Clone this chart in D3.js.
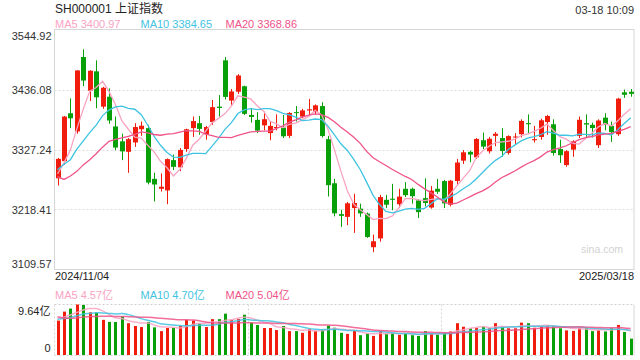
<!DOCTYPE html>
<html><head><meta charset="utf-8">
<script src="https://cdn.jsdelivr.net/npm/d3@7"></script>
<style>
body{margin:0;background:#fff}
svg{display:block}
text{font-family:"Liberation Sans",Arial,"Noto Sans CJK SC",sans-serif}
</style>
</head><body>
<svg id="c" width="640" height="360"></svg>
<script>
// ---------- data ----------
const title = "SH000001 上证指数";
const timeStamp = "03-18 10:09";
const dates = [
"2024/11/04","2024/11/05","2024/11/06","2024/11/07","2024/11/08","2024/11/11","2024/11/12","2024/11/13","2024/11/14","2024/11/15",
"2024/11/18","2024/11/19","2024/11/20","2024/11/21","2024/11/22","2024/11/25","2024/11/26","2024/11/27","2024/11/28","2024/11/29",
"2024/12/02","2024/12/03","2024/12/04","2024/12/05","2024/12/06","2024/12/09","2024/12/10","2024/12/11","2024/12/12","2024/12/13",
"2024/12/16","2024/12/17","2024/12/18","2024/12/19","2024/12/20","2024/12/23","2024/12/24","2024/12/25","2024/12/26","2024/12/27",
"2024/12/30","2024/12/31","2025/01/02","2025/01/03","2025/01/06","2025/01/07","2025/01/08","2025/01/09","2025/01/10","2025/01/13",
"2025/01/14","2025/01/15","2025/01/16","2025/01/17","2025/01/20","2025/01/21","2025/01/22","2025/01/23","2025/01/24","2025/01/27",
"2025/02/05","2025/02/06","2025/02/07","2025/02/10","2025/02/11","2025/02/12","2025/02/13","2025/02/14","2025/02/17","2025/02/18",
"2025/02/19","2025/02/20","2025/02/21","2025/02/24","2025/02/25","2025/02/26","2025/02/27","2025/02/28","2025/03/03","2025/03/04",
"2025/03/05","2025/03/06","2025/03/07","2025/03/10","2025/03/11","2025/03/12","2025/03/13","2025/03/14","2025/03/17","2025/03/18"];
const opens = [
3275,3306,3393,3360,3495,3434,3469,3405,3423,3369,
3342,3323,3340,3364,3366,3274,3256,3253,3308,3295,
3328,3366,3375,3355,3377,3405,3489,3416,3432,3442,
3390,3381,3371,3357,3367,3367,3352,3395,3387,3398,
3395,3406,3346,3266,3210,3205,3221,3220,3211,3150,
3166,3236,3238,3228,3256,3256,3235,3239,3222,3256,
3270,3227,3270,3307,3323,3313,3344,3324,3352,3348,
3321,3349,3355,3375,3344,3350,3377,3373,3328,3299,
3327,3352,3375,3372,3335,3385,3370,3355,3431,3432];
const highs = [
3312,3388,3420,3471,3509,3471,3489,3441,3438,3387,
3356,3348,3375,3378,3372,3285,3284,3311,3318,3330,
3365,3387,3388,3370,3417,3426,3495,3437,3464,3443,
3402,3395,3396,3378,3391,3390,3395,3406,3401,3419,
3409,3413,3352,3274,3218,3232,3247,3229,3213,3173,
3245,3245,3265,3256,3268,3258,3237,3275,3261,3274,
3272,3272,3310,3326,3325,3348,3358,3350,3359,3366,
3353,3357,3382,3391,3370,3383,3390,3382,3345,3326,
3344,3387,3391,3376,3382,3393,3378,3421,3436,3437];
const lows = [
3262,3300,3366,3356,3442,3415,3402,3401,3374,3326,
3308,3285,3332,3352,3264,3233,3251,3228,3290,3288,
3323,3350,3354,3345,3372,3387,3418,3408,3428,3390,
3376,3357,3362,3344,3362,3348,3348,3378,3384,3390,
3390,3349,3242,3206,3187,3190,3176,3205,3167,3141,
3160,3221,3217,3221,3241,3229,3203,3224,3220,3247,
3221,3224,3262,3301,3304,3310,3328,3320,3333,3314,
3318,3336,3349,3355,3340,3345,3354,3316,3303,3296,
3314,3348,3349,3349,3330,3362,3341,3352,3421,3423];
const closes = [
3310.21,3386.99,3383.81,3470.66,3452.30,3470.07,3421.97,3439.28,3379.84,3330.73,
3323.85,3346.01,3367.99,3370.40,3267.19,3263.76,3259.76,3309.78,3295.70,3326.46,
3363.98,3378.81,3364.65,3368.07,3404.08,3402.53,3422.66,3432.49,3461.50,3391.88,
3386.33,3361.49,3382.21,3370.03,3368.07,3351.26,3393.53,3393.35,3398.08,3400.14,
3407.33,3351.76,3262.56,3211.43,3206.92,3229.64,3230.17,3211.39,3168.52,3160.76,
3240.94,3227.12,3236.03,3241.82,3244.38,3242.62,3213.62,3230.16,3252.63,3250.60,
3229.49,3270.66,3303.67,3322.17,3318.06,3346.39,3332.48,3346.72,3355.83,3324.49,
3351.54,3350.78,3379.11,3373.03,3346.04,3380.21,3388.06,3320.90,3316.93,3324.21,
3341.96,3381.10,3372.55,3366.16,3379.83,3371.92,3358.73,3419.56,3426.43,3428.20];
// closes of the 19 sessions before the window (feed the moving averages)
const prevCloses = [3489.78,3258.86,3301.93,3217.74,3284.32,3201.29,3202.95,3169.38,3261.56,3268.11,
3285.87,3302.80,3280.26,3299.70,3322.20,3286.41,3266.24,3279.82,3272.01];
// volumes in 亿
const volumes = [
6.57,8.28,8.86,9.64,9.55,8.14,8.10,6.71,6.32,6.30,
7.36,6.07,5.54,5.34,6.32,5.28,4.56,5.15,5.15,5.54,
6.71,6.57,6.07,5.34,6.85,6.85,7.89,6.71,6.85,7.69,
6.18,5.73,5.15,5.15,4.76,5.54,4.56,4.56,4.23,4.95,
4.62,4.89,5.60,5.21,4.23,4.03,4.62,3.78,4.11,3.64,
4.56,4.11,4.23,3.84,4.11,3.78,3.64,4.56,4.20,3.90,
4.30,4.50,6.07,5.40,5.10,5.20,5.40,5.10,6.07,5.40,
5.10,5.10,6.18,6.07,5.20,5.40,5.50,5.50,5.10,4.70,
4.60,5.20,5.10,4.55,4.70,4.50,5.10,5.73,4.40,3.12];
const prevVolumes = [12.5,10.2,8.0,6.5,6.8,6.9,6.2,6.0,7.6,7.0,6.9,6.6,6.4,6.2,7.1,7.0,6.8,7.3,7.2];
const priceTicks = [3109.57,3218.41,3327.24,3436.08,3544.92];
const volumeTicks = [0,9.64];
const maPeriods = [5,10,20];
const maNames = ["MA5","MA10","MA20"];
const priceMaLegend = ["3400.97","3384.65","3368.86"];
const volMaLegend = ["4.57亿","4.70亿","5.04亿"];
const watermark = "sina.com";

// ---------- styles ----------
const UP = "#f01c0c", DOWN = "#08a008";
const maColors = ["#f9a3c3","#3fc3e2","#ef5389"];
const L = 54.5, R = 634, T = 29.5, B = 269.5, VT = 304.5, VB = 355.5;

const svg = d3.select("#c");
const x = d3.scaleBand().domain(dates).range([54.3, 633.9]).paddingInner(0.22).paddingOuter(0.11);
const cx = d => x(d) + x.bandwidth()/2;
const y = d3.scaleLinear().domain([priceTicks[0], priceTicks[4]]).range([B, T]);
const yv = d3.scaleLinear().domain([0, volumeTicks[1]]).range([VB - 0.5, VT]);

// header
svg.append("text").attr("x",55).attr("y",13).attr("font-size",12).attr("fill","#222").text(title);
svg.append("text").attr("x",634).attr("y",13.5).attr("font-size",11).attr("fill","#333").attr("text-anchor","end").text(timeStamp);
const legX = [55,140.5,225.5];
maNames.forEach((n,k)=>{
  svg.append("text").attr("x",legX[k]).attr("y",28).attr("font-size",11).attr("fill",maColors[k]).text(n+" "+priceMaLegend[k]);
  svg.append("text").attr("x",legX[k]).attr("y",298.5).attr("font-size",11).attr("fill",maColors[k]).text(n+" "+volMaLegend[k]);
});

// main grid + frame
svg.append("g").selectAll("line").data(priceTicks.slice(1,4)).join("line")
  .attr("x1",L).attr("x2",R).attr("y1",d=>Math.round(y(d))+0.5).attr("y2",d=>Math.round(y(d))+0.5)
  .attr("stroke","#dcdcdc").attr("stroke-dasharray","2,2");
svg.append("rect").attr("x",L).attr("y",T).attr("width",R-L).attr("height",B-T)
  .attr("fill","none").attr("stroke","#d6d6d6");

// y axis (price)
const ya = svg.append("g").attr("transform",`translate(${L},0)`)
  .call(d3.axisLeft(y).tickValues(priceTicks).tickSize(0).tickPadding(3).tickFormat(d3.format(".2f")));
ya.select(".domain").remove();
ya.selectAll("text").attr("font-size",11).attr("fill","#333").attr("font-family",null)
  .attr("dy",(d,i)=> i===4 ? "0.95em" : (i===0 ? "-0.2em" : "0.32em"));

// x axis labels
const xa = svg.append("g").attr("transform",`translate(0,${B})`)
  .call(d3.axisBottom(x).tickValues([dates[0],dates[dates.length-1]]).tickSize(0).tickPadding(3));
xa.select(".domain").remove();
xa.selectAll("text").attr("font-size",11).attr("fill","#222").attr("font-family",null)
  .attr("text-anchor",(d,i)=> i===0?"start":"end")
  .attr("dy","0.71em")
  .attr("x",(d,i)=> i===0 ? 55 - cx(d) : 634 - cx(d));

// watermark
svg.append("text").attr("x",623).attr("y",253).attr("font-size",10.5).attr("fill","#d2d2d2").attr("text-anchor","end").text(watermark);

// candles
const idx = d3.range(dates.length);
const cg = svg.append("g");
cg.selectAll("line").data(idx).join("line")
  .attr("x1",i=>Math.round(cx(dates[i]))+0.5).attr("x2",i=>Math.round(cx(dates[i]))+0.5)
  .attr("y1",i=>y(highs[i])).attr("y2",i=>y(lows[i]))
  .attr("stroke",i=>closes[i]>=opens[i]?UP:DOWN).attr("stroke-width",1);
cg.selectAll("rect").data(idx).join("rect")
  .attr("x",i=>Math.round(cx(dates[i]))+0.5-2.5).attr("width",5)
  .attr("y",i=>y(Math.max(opens[i],closes[i])))
  .attr("height",i=>Math.max(1,Math.abs(y(opens[i])-y(closes[i]))))
  .attr("fill",i=>closes[i]>=opens[i]?UP:DOWN);

// moving averages
function movingAvg(prev, vals, n){
  const all = prev.concat(vals), off = prev.length;
  return vals.map((v,i)=> d3.mean(all.slice(off+i-n+1, off+i+1)));
}
maPeriods.forEach((n,k)=>{
  const m = movingAvg(prevCloses, closes, n);
  svg.append("path").datum(idx).attr("fill","none").attr("stroke",maColors[k]).attr("stroke-width",1.3)
    .attr("d", d3.line().x(i=>cx(dates[i])).y(i=>y(m[i]))(idx));
});

// volume panel
const vg = svg.append("g");
vg.append("line").attr("x1",L).attr("x2",R).attr("y1",VT).attr("y2",VT).attr("stroke","#cfcfcf").attr("stroke-dasharray","2,2");
vg.append("line").attr("x1",L).attr("x2",R).attr("y1",VB).attr("y2",VB).attr("stroke","#d6d6d6").attr("stroke-dasharray","2,2");
[L, Math.round(L+(R-L)/3)+0.5, Math.round(L+2*(R-L)/3)+0.5].forEach(xx=>{
  vg.append("line").attr("x1",xx).attr("x2",xx).attr("y1",VT).attr("y2",VB).attr("stroke","#d6d6d6").attr("stroke-dasharray","2,2");
});
vg.append("line").attr("x1",R).attr("x2",R).attr("y1",VT).attr("y2",VB).attr("stroke","#d6d6d6");
vg.selectAll("rect").data(idx).join("rect")
  .attr("x",i=>Math.round(cx(dates[i]))+0.5-1.5).attr("width",3)
  .attr("y",i=>yv(volumes[i])).attr("height",i=>yv(0)-yv(volumes[i]))
  .attr("fill",i=>closes[i]>=opens[i]?UP:DOWN);
maPeriods.forEach((n,k)=>{
  const m = movingAvg(prevVolumes, volumes, n);
  svg.append("path").attr("fill","none").attr("stroke",maColors[k]).attr("stroke-width",1.5).attr("stroke-opacity",0.85)
    .attr("d", d3.line().curve(d3.curveMonotoneX).x(i=>cx(dates[i])).y(i=>yv(m[i]))(idx));
});
const va = svg.append("g").attr("transform",`translate(${L},0)`)
  .call(d3.axisLeft(yv).tickValues(volumeTicks).tickSize(0).tickPadding(4)
    .tickFormat(d=> d===0 ? "0" : d3.format(".2f")(d)+"亿"));
va.select(".domain").remove();
va.selectAll("text").attr("font-size",11).attr("fill","#222").attr("font-family",null)
  .attr("dy",(d,i)=> i===1 ? "0.95em" : "-0.3em");
</script>
</body></html>
